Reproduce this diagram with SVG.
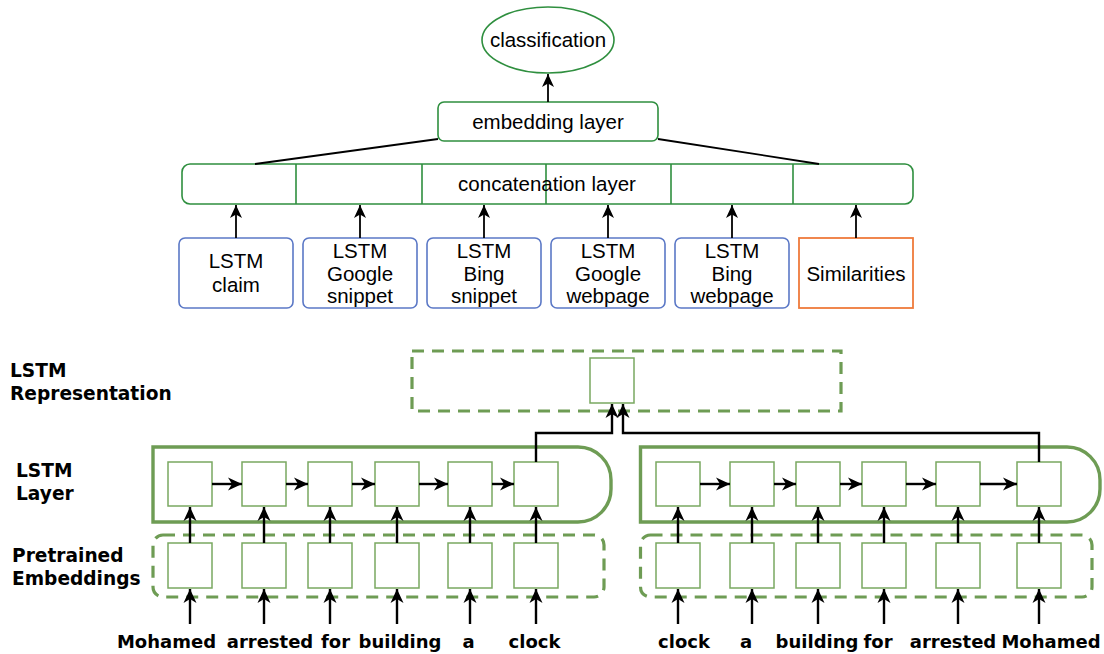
<svg xmlns="http://www.w3.org/2000/svg" width="1104" height="654" viewBox="0 0 1104 654">
<defs>
<marker id="ah" markerUnits="userSpaceOnUse" markerWidth="15" markerHeight="14" refX="14" refY="7" orient="auto">
<path d="M0,0.5 L14,7 L0,13.5 L4,7 Z" fill="#000"/>
</marker>
<marker id="ahs" markerUnits="userSpaceOnUse" markerWidth="14" markerHeight="14" refX="13" refY="6.5" orient="auto">
<path d="M0,0.5 L13,6.5 L0,12.5 L3.5,6.5 Z" fill="#000"/>
</marker>
<style>
.t{font-family:"Liberation Sans",Arial,sans-serif;font-size:20.5px;fill:#000;text-anchor:middle}
.b{font-family:"DejaVu Sans",Verdana,sans-serif;font-weight:bold;font-size:18.6px;fill:#000}
.w{font-family:"DejaVu Sans",Verdana,sans-serif;font-weight:bold;font-size:18px;fill:#000;text-anchor:middle}
.gtop{fill:#fff;stroke:#2f8f3f;stroke-width:1.6}
.lstm{fill:#fff;stroke:#5b78c6;stroke-width:1.6}
.sim{fill:#fff;stroke:#ef7a3b;stroke-width:1.8}
.cell{fill:#fff;stroke:#79a860;stroke-width:1.5}
.dash{fill:none;stroke:#6e9c54;stroke-width:3.2;stroke-dasharray:12 8}
.layer{fill:none;stroke:#6e9c54;stroke-width:3.4}
.arr{fill:none;stroke:#000;stroke-width:2.4;marker-end:url(#ah)}
.arrs{fill:none;stroke:#000;stroke-width:1.8;marker-end:url(#ahs)}
.ln{fill:none;stroke:#000;stroke-width:1.8}
</style>
</defs>

<g id="classification">
<ellipse class="gtop" cx="548" cy="40" rx="66" ry="33"/>
<text class="t" x="548" y="47">classification</text>
</g>
<g id="embedding-layer">
<rect class="gtop" x="438" y="102" width="220" height="39" rx="6"/>
<text class="t" x="548" y="129">embedding layer</text>
</g>
<g id="concatenation-layer">
<rect class="gtop" x="182" y="164" width="731" height="40" rx="8"/>
<path class="gtop" d="M296,164V204M422,164V204M546,164V204M671,164V204M793,164V204" fill="none"/>
<text class="t" x="547" y="191">concatenation layer</text>
</g>

<g id="lstm-claim">
<rect class="lstm" x="179" y="238" width="114" height="70" rx="6"/>
<text class="t" x="236" y="268">LSTM</text>
<text class="t" x="236" y="292">claim</text>
</g>
<g id="lstm-google-snippet">
<rect class="lstm" x="303" y="238" width="114" height="70" rx="6"/>
<text class="t" x="360" y="258">LSTM</text>
<text class="t" x="360" y="281">Google</text>
<text class="t" x="360" y="303">snippet</text>
</g>
<g id="lstm-bing-snippet">
<rect class="lstm" x="427" y="238" width="114" height="70" rx="6"/>
<text class="t" x="484" y="258">LSTM</text>
<text class="t" x="484" y="281">Bing</text>
<text class="t" x="484" y="303">snippet</text>
</g>
<g id="lstm-google-webpage">
<rect class="lstm" x="551" y="238" width="114" height="70" rx="6"/>
<text class="t" x="608" y="258">LSTM</text>
<text class="t" x="608" y="281">Google</text>
<text class="t" x="608" y="303">webpage</text>
</g>
<g id="lstm-bing-webpage">
<rect class="lstm" x="675" y="238" width="114" height="70" rx="6"/>
<text class="t" x="732" y="258">LSTM</text>
<text class="t" x="732" y="281">Bing</text>
<text class="t" x="732" y="303">webpage</text>
</g>
<g id="similarities">
<rect class="sim" x="799" y="238" width="114" height="70"/>
<text class="t" x="856" y="281">Similarities</text>
</g>

<g id="labels">
<text class="b" x="10" y="377">LSTM</text>
<text class="b" x="10" y="400">Representation</text>
<text class="b" x="16" y="477">LSTM</text>
<text class="b" x="16" y="500">Layer</text>
<text class="b" x="12" y="562">Pretrained</text>
<text class="b" x="12" y="585">Embeddings</text>
</g>

<g id="lstm-representation">
<rect class="dash" x="412" y="351" width="429" height="60"/>
<rect class="cell" x="590" y="358" width="44" height="45"/>
</g>

<g id="lstm-layer-left">
<path class="layer" d="M153,447H578A33,33 0 0 1 611,480V489A33,33 0 0 1 578,522H153Z"/>
<rect class="cell" x="168" y="462" width="44" height="44"/>
<rect class="cell" x="242" y="462" width="44" height="44"/>
<rect class="cell" x="308" y="462" width="44" height="44"/>
<rect class="cell" x="375" y="462" width="44" height="44"/>
<rect class="cell" x="448" y="462" width="44" height="44"/>
<rect class="cell" x="514" y="462" width="44" height="44"/>
</g>
<g id="lstm-layer-right">
<path class="layer" d="M640.5,447H1067A33,33 0 0 1 1100,480V489A33,33 0 0 1 1067,522H640.5Z"/>
<rect class="cell" x="656" y="462" width="44" height="44"/>
<rect class="cell" x="730" y="462" width="44" height="44"/>
<rect class="cell" x="796" y="462" width="44" height="44"/>
<rect class="cell" x="862" y="462" width="44" height="44"/>
<rect class="cell" x="936" y="462" width="44" height="44"/>
<rect class="cell" x="1017" y="462" width="44" height="44"/>
</g>

<g id="embeddings-left">
<rect class="dash" x="153" y="535" width="451" height="62" rx="10"/>
<rect class="cell" x="168" y="543" width="44" height="45"/>
<rect class="cell" x="242" y="543" width="44" height="45"/>
<rect class="cell" x="308" y="543" width="44" height="45"/>
<rect class="cell" x="375" y="543" width="44" height="45"/>
<rect class="cell" x="448" y="543" width="44" height="45"/>
<rect class="cell" x="514" y="543" width="44" height="45"/>
</g>
<g id="embeddings-right">
<rect class="dash" x="640.5" y="535" width="451.5" height="62" rx="10"/>
<rect class="cell" x="656" y="543" width="44" height="45"/>
<rect class="cell" x="730" y="543" width="44" height="45"/>
<rect class="cell" x="796" y="543" width="44" height="45"/>
<rect class="cell" x="862" y="543" width="44" height="45"/>
<rect class="cell" x="936" y="543" width="44" height="45"/>
<rect class="cell" x="1017" y="543" width="44" height="45"/>
</g>

<g id="words">
<text class="w" x="166.5" y="648">Mohamed</text>
<text class="w" x="270" y="648">arrested</text>
<text class="w" x="335.5" y="648">for</text>
<text class="w" x="400" y="648">building</text>
<text class="w" x="468.5" y="648">a</text>
<text class="w" x="534.5" y="648">clock</text>
<text class="w" x="684" y="648">clock</text>
<text class="w" x="746" y="648">a</text>
<text class="w" x="817" y="648">building</text>
<text class="w" x="878" y="648">for</text>
<text class="w" x="953" y="648">arrested</text>
<text class="w" x="1051" y="648">Mohamed</text>
</g>

<g id="connectors">
<path class="arrs" d="M548,102V74"/>
<path class="ln" d="M438,139L255,164M658,139L819,164"/>
<path class="arrs" d="M236,238V205"/>
<path class="arrs" d="M360,238V205"/>
<path class="arrs" d="M484,238V205"/>
<path class="arrs" d="M608,238V205"/>
<path class="arrs" d="M732,238V205"/>
<path class="arrs" d="M856,238V205"/>

<path class="arr" d="M536,462V433H612V404"/>
<path class="arr" d="M1039,462V433H623V404"/>

<path class="arr" d="M212,484H242"/>
<path class="arr" d="M286,484H308"/>
<path class="arr" d="M352,484H375"/>
<path class="arr" d="M419,484H448"/>
<path class="arr" d="M492,484H514"/>
<path class="arr" d="M700,484H730"/>
<path class="arr" d="M774,484H796"/>
<path class="arr" d="M840,484H862"/>
<path class="arr" d="M906,484H936"/>
<path class="arr" d="M980,484H1017"/>

<path class="arr" d="M190,543V507"/>
<path class="arr" d="M264,543V507"/>
<path class="arr" d="M330,543V507"/>
<path class="arr" d="M397,543V507"/>
<path class="arr" d="M470,543V507"/>
<path class="arr" d="M536,543V507"/>
<path class="arr" d="M678,543V507"/>
<path class="arr" d="M752,543V507"/>
<path class="arr" d="M818,543V507"/>
<path class="arr" d="M884,543V507"/>
<path class="arr" d="M958,543V507"/>
<path class="arr" d="M1039,543V507"/>

<path class="arr" d="M190,624V589"/>
<path class="arr" d="M264,624V589"/>
<path class="arr" d="M330,624V589"/>
<path class="arr" d="M397,624V589"/>
<path class="arr" d="M470,624V589"/>
<path class="arr" d="M536,624V589"/>
<path class="arr" d="M678,624V589"/>
<path class="arr" d="M752,624V589"/>
<path class="arr" d="M818,624V589"/>
<path class="arr" d="M884,624V589"/>
<path class="arr" d="M958,624V589"/>
<path class="arr" d="M1039,624V589"/>
</g>
</svg>
